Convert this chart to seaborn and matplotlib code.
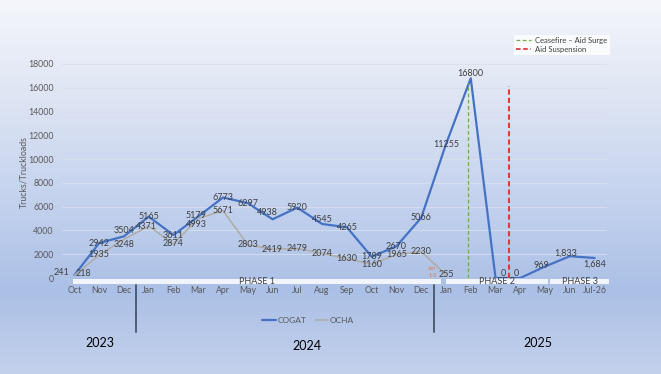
import numpy as np
import pandas as pd
import seaborn as sns
import matplotlib.pyplot as plt
import matplotlib.transforms as mtransforms
from matplotlib.lines import Line2D
from matplotlib.patches import Rectangle

# --- data ---
months = ['Oct', 'Nov', 'Dec', 'Jan', 'Feb', 'Mar', 'Apr', 'May', 'Jun', 'Jul', 'Aug',
          'Sep', 'Oct', 'Nov', 'Dec', 'Jan', 'Feb', 'Mar', 'Apr', 'May', 'Jun', 'Jul-26']
cogat = [241, 2942, 3504, 5165, 3611, 5179, 6773, 6297, 4938, 5920, 4545, 4265,
         1789, 2670, 5066, 11255, 16800, 0, 0, 969, 1833, 1684]
ocha = [218, 1935, 3248, 4371, 2874, 4993, 5671, 2803, 2419, 2479, 2074, 1630,
        1160, 1965, 2230, 255]
years = ['2023', '2024', '2025']
phases = ['PHASE 1', 'PHASE 2', 'PHASE 3']
events = ['Ceasefire – Aid Surge', 'Aid Suspension']
event_x = [15.9, 17.55]
event_top = [16400, 16150]

df = pd.concat([
    pd.DataFrame({'idx': range(len(cogat)), 'value': cogat, 'source': 'COGAT'}),
    pd.DataFrame({'idx': range(len(ocha)), 'value': ocha, 'source': 'OCHA'}),
])

sns.set_theme(style='white')
plt.rcParams['font.family'] = ['Lato', 'DejaVu Sans']

W, H = 661, 374
fig = plt.figure(figsize=(W / 100, H / 100), dpi=100)

# gradient background
bg = fig.add_axes([0, 0, 1, 1], zorder=-10)
stops_px = [0, 100, 200, 290, 374]
stops_col = np.array([[244, 246, 251], [221, 228, 243], [196, 210, 238],
                      [171, 192, 230], [196, 209, 236]]) / 255
rows = np.arange(H)
grad = np.stack([np.interp(rows, stops_px, stops_col[:, c]) for c in range(3)], axis=1)
bg.imshow(grad[:, None, :], aspect='auto', extent=[0, 1, 0, 1])
bg.axis('off')

ax = fig.add_axes([62 / W, 1 - 278 / H, (607 - 62) / W, (278 - 64) / H])
ax.set_facecolor('none')

blue = '#4472C4'
gray = '#B0ABA3'
sns.lineplot(data=df[df.source == 'COGAT'], x='idx', y='value', color=blue,
             linewidth=1.6, ax=ax, legend=False)
sns.lineplot(data=df[df.source == 'OCHA'], x='idx', y='value', color=gray,
             linewidth=1.1, ax=ax, legend=False)

ax.set_xlim(-0.5, 21.5)
ax.set_ylim(0, 18000)
ax.set_yticks(range(0, 18001, 2000))
ax.set_xticks(range(len(months)))
ax.set_xticklabels(months)
ax.set_xlabel('')
ax.set_ylabel('')
ax.tick_params(axis='x', length=0, pad=6, labelsize=6.3, labelcolor='#595959')
ax.tick_params(axis='y', length=0, pad=6, labelsize=6.3, labelcolor='#595959')
ax.yaxis.grid(True, color='#D9DFEC', linewidth=0.6)
ax.set_axisbelow(True)
for s in ax.spines.values():
    s.set_visible(False)

# event lines
ax.vlines(event_x[0], 0, event_top[0], colors='#70AD47', linestyles=(0, (3, 2)), linewidth=0.9)
ax.vlines(event_x[1], 0, event_top[1], colors='#E8383B', linestyles=(0, (2.5, 1.5)), linewidth=1.5)

# data labels (offsets in points)
cogat_off = {0: (-9, 2), 2: (0, 4), 5: (-1.5, 0.5), 8: (-4, 5), 10: (0, 3.5), 16: (0, 3.5),
             17: (5.5, 3.5), 18: (-3, 3), 19: (-3, 1), 20: (-3, 2), 21: (0, -4.5)}
ocha_off = {0: (6.5, 1.5), 2: (0, -3.5), 3: (-1.5, 0), 5: (-1, -4)}
lbl_kw = dict(textcoords='offset points', ha='center', va='center', fontsize=6.5, color='#404040')
for i, v in enumerate(cogat):
    txt = f'{v:,}' if i >= 20 else str(v)
    ax.annotate(txt, (i, v), xytext=cogat_off.get(i, (0, 0)), **lbl_kw)
for i, v in enumerate(ocha):
    ax.annotate(str(v), (i, v), xytext=ocha_off.get(i, (0, 0)), **lbl_kw)
ax.text(14.45, 500, 'Jan\n1-5', fontsize=4, color='#E07B39', ha='center', va='center',
        linespacing=1.6)

# phase bars under the axis
phase_span = [(-0.05, 14.8), (15.0, 19.1), (19.2, 21.6)]
xt = ax.get_xaxis_transform()
for name, (x0, x1) in zip(phases, phase_span):
    ax.add_patch(Rectangle((x0, -0.028), x1 - x0, 0.024, transform=xt, clip_on=False,
                           facecolor='#F5F7FC', edgecolor='none', alpha=0.95))
    ax.text((x0 + x1) / 2, -0.017, name, transform=xt, ha='center', va='center',
            fontsize=6.5, color='#404040', clip_on=False)

# year separators and labels
bt = mtransforms.blended_transform_factory(ax.transData, fig.transFigure)
for xs in [2.5, 14.5]:
    fig.add_artist(Line2D([xs, xs], [1 - 285 / H, 1 - 332 / H], transform=bt,
                          color='#44546A', linewidth=1.3))
for yr, (px, py) in zip(years, [(100, 343), (307, 346), (538, 343)]):
    fig.text(px / W, 1 - py / H, yr, ha='center', va='center', fontsize=9, color='black')

fig.text(24 / W, 1 - 172 / H, 'Trucks/Truckloads', rotation=90, ha='center', va='center',
         fontsize=6.3, color='#595959')

# legends
h1 = [Line2D([], [], color=blue, linewidth=1.6), Line2D([], [], color=gray, linewidth=1.1)]
leg1 = fig.legend(h1, ['COGAT', 'OCHA'], loc='center', bbox_to_anchor=(0.466, 0.142),
                  ncol=2, frameon=False, fontsize=6, handlelength=1.6, columnspacing=1,
                  handletextpad=0.2)
for t in leg1.get_texts():
    t.set_color('#595959')

h2 = [Line2D([], [], color='#70AD47', linestyle=(0, (3, 2)), linewidth=0.9),
      Line2D([], [], color='#E8383B', linestyle=(0, (2.5, 1.5)), linewidth=1.3)]
leg2 = fig.legend(h2, events, loc='upper left', bbox_to_anchor=(510 / W, 1 - 31 / H),
                  frameon=True, fontsize=5.5, handlelength=2, handletextpad=0.5,
                  borderpad=0.3, labelspacing=0.2, fancybox=False)
leg2.get_frame().set_facecolor('white')
leg2.get_frame().set_edgecolor('none')
for t in leg2.get_texts():
    t.set_color('#404040')

fig.savefig('out.png', dpi=100)
